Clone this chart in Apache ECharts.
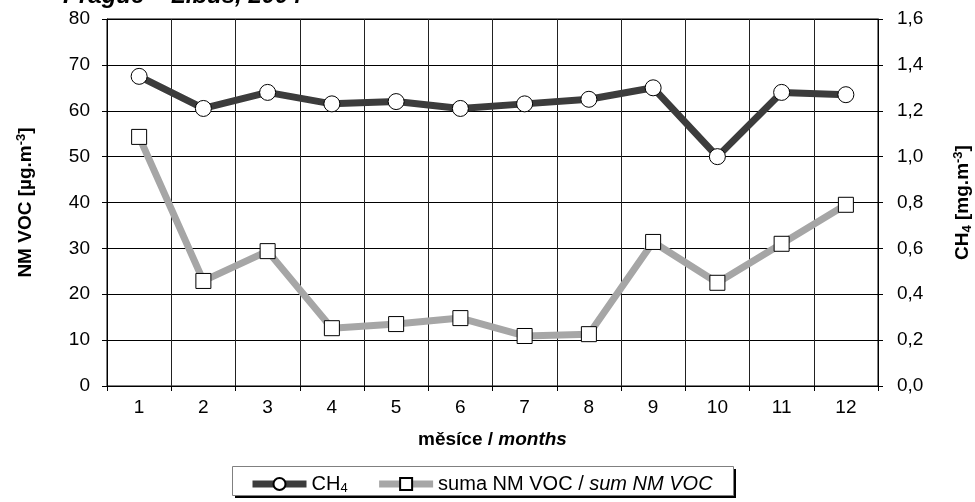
<!DOCTYPE html>
<html>
<head>
<meta charset="utf-8">
<script src="https://cdn.jsdelivr.net/npm/echarts@6/dist/echarts.min.js"></script>
<style>
html,body{margin:0;padding:0;background:#fff;}
#c{width:975px;height:502px;}
</style>
</head>
<body>
<div id="c"></div>
<script>
const months = ['1','2','3','4','5','6','7','8','9','10','11','12'];
const ch4 = [1.35, 1.21, 1.28, 1.23, 1.24, 1.21, 1.23, 1.25, 1.30, 1.00, 1.28, 1.27];
const nmvoc = [54.3, 22.9, 29.4, 12.6, 13.5, 14.8, 10.9, 11.3, 31.4, 22.5, 31.0, 39.5];
const titleText = 'Prague – Libuš, 2004';

const FONT = '"Liberation Sans", Arial, sans-serif';
const TICK = 19;
const NAME = 19;
const chart = echarts.init(document.getElementById('c'));
chart.setOption({
  animation: false,
  textStyle: {fontFamily: FONT},
  grid: {left: 107, right: 97, top: 19, bottom: 116, show: true, borderColor: '#000', borderWidth: 1, outerBoundsMode: 'none', containLabel: false},
  graphic: [
    {type: 'text', left: 63, top: -16, style: {text: titleText, font: 'italic bold 24px ' + FONT, fill: '#000'}},
    {type: 'rect', shape: {x: 235, y: 469, width: 501, height: 29}, style: {fill: '#000'}, z: 0},
    {type: 'rect', shape: {x: 232.5, y: 466.5, width: 501, height: 29}, style: {fill: '#fff', stroke: '#808080', lineWidth: 1}, z: 1}
  ],
  legend: {
    top: 469, left: 244, itemGap: 28, itemWidth: 54, itemHeight: 15, z: 10,
    lineStyle: {width: 7},
    textStyle: {fontSize: 20, color: '#000', fontFamily: FONT,
      rich: {
        n: {fontSize: 20, fontFamily: FONT},
        s: {fontSize: 13, verticalAlign: 'bottom', padding: [9,0,0,0], fontFamily: FONT},
        i: {fontSize: 20, fontStyle: 'italic', fontFamily: FONT}
      }},
    formatter: function (n) {
      if (n === 'CH4') return '{n|CH}{s|4}';
      return '{n|suma NM VOC / }{i|sum NM VOC}';
    },
    data: ['CH4', 'suma NM VOC']
  },
  xAxis: {
    type: 'category', data: months, boundaryGap: true,
    name: '{b|měsíce / }{bi|months}', nameLocation: 'middle', nameGap: 44,
    nameTextStyle: {rich: {b: {fontSize: NAME, fontWeight: 'bold', fontFamily: FONT}, bi: {fontSize: NAME, fontWeight: 'bold', fontStyle: 'italic', fontFamily: FONT}}},
    axisLine: {lineStyle: {color: '#000', width: 1}},
    axisTick: {show: true, length: 5, lineStyle: {color: '#000'}},
    axisLabel: {fontSize: TICK, color: '#000', margin: 12},
    splitLine: {show: true, lineStyle: {color: '#222', width: 1}}
  },
  yAxis: [
    {
      type: 'value', min: 0, max: 80, interval: 10, position: 'left',
      name: '{b|NM VOC [µg.m}{sup|-3}{b|]}', nameLocation: 'middle', nameRotate: 90, nameGap: 70,
      nameTextStyle: {rich: {b: {fontSize: NAME, fontWeight: 'bold', fontFamily: FONT}, sup: {fontSize: 13, fontWeight: 'bold', verticalAlign: 'top', padding: [0,0,9,0], fontFamily: FONT}}},
      axisLine: {show: true, lineStyle: {color: '#000'}},
      axisTick: {show: true, length: 5, lineStyle: {color: '#000'}},
      axisLabel: {fontSize: TICK, color: '#000', margin: 17},
      splitLine: {show: true, lineStyle: {color: '#000', width: 1}}
    },
    {
      type: 'value', min: 0, max: 1.6, interval: 0.2, position: 'right',
      name: '{b|CH}{sub|4}{b| [mg.m}{sup|-3}{b|]}', nameLocation: 'middle', nameRotate: 90, nameGap: 74,
      nameTextStyle: {rich: {b: {fontSize: NAME, fontWeight: 'bold', fontFamily: FONT}, sub: {fontSize: 13, fontWeight: 'bold', verticalAlign: 'bottom', padding: [9,0,0,0], fontFamily: FONT}, sup: {fontSize: 13, fontWeight: 'bold', verticalAlign: 'top', padding: [0,0,9,0], fontFamily: FONT}}},
      axisLine: {show: true, lineStyle: {color: '#000'}},
      axisTick: {show: true, length: 5, lineStyle: {color: '#000'}},
      axisLabel: {fontSize: TICK, color: '#000', margin: 19, formatter: v => v.toFixed(1).replace('.', ',')},
      splitLine: {show: false}
    }
  ],
  series: [
    {
      name: 'suma NM VOC', type: 'line', yAxisIndex: 0, data: nmvoc,
      symbol: 'rect', symbolSize: 15, showAllSymbol: true,
      lineStyle: {color: '#a6a6a6', width: 7},
      itemStyle: {color: '#fff', borderColor: '#000', borderWidth: 1},
      z: 3
    },
    {
      name: 'CH4', type: 'line', yAxisIndex: 1, data: ch4,
      symbol: 'circle', symbolSize: 16, showAllSymbol: true,
      lineStyle: {color: '#3c3c3c', width: 7},
      itemStyle: {color: '#fff', borderColor: '#000', borderWidth: 1},
      z: 4
    }
  ]
});
</script>
</body>
</html>
